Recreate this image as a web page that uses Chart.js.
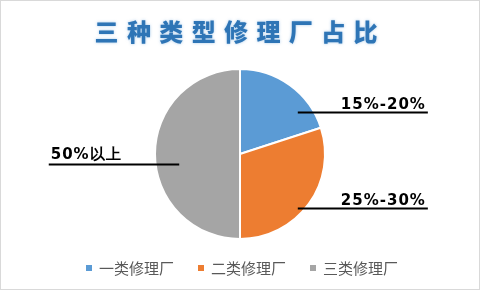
<!DOCTYPE html>
<html><head><meta charset="utf-8">
<script src="https://cdn.jsdelivr.net/npm/chart.js@4/dist/chart.umd.min.js"></script>
<style>html,body{margin:0;padding:0;background:#fff;}#wrap{width:480px;height:290px;position:relative;}</style>
</head><body><div id="wrap"><canvas id="c" width="480" height="290"></canvas></div>
<script>
const title = "三种类型修理厂占比";
const categories = ["一类修理厂", "二类修理厂", "三类修理厂"];
const values = [20, 30, 50];
const labelTexts = ["15%-20%", "25%-30%", "50%以上"];
const colors = ["#5B9BD5", "#ED7D31", "#A5A5A5"];

const decor = {
  id: 'decor',
  beforeDraw(chart) {
    const ctx = chart.ctx;
    ctx.save();
    ctx.fillStyle = '#fff';
    ctx.fillRect(0, 0, chart.width, chart.height);
    ctx.strokeStyle = '#d9d9d9';
    ctx.lineWidth = 1;
    ctx.strokeRect(0.5, 0.5, chart.width - 1, chart.height - 1);
    ctx.restore();
  },
  afterDraw(chart) {
    const ctx = chart.ctx;
    ctx.save();
    // title
    ctx.font = '900 24px "Noto Sans CJK SC"';
    ctx.fillStyle = '#2E75B6';
    ctx.textBaseline = 'middle';
    const chars = [...title];
    const ws = chars.map(c => ctx.measureText(c).width);
    const sumW = ws.reduce((a, b) => a + b, 0);
    const span = 283;
    const gap = (span - sumW) / (chars.length - 1);
    let x = 236 - span / 2;
    ctx.shadowColor = 'rgba(91,155,213,0.55)';
    ctx.shadowBlur = 3;
    chars.forEach((c, i) => { ctx.fillText(c, x, 32); x += ws[i] + gap; });
    ctx.shadowColor = 'transparent';
    ctx.shadowBlur = 0;

    // data labels with leader lines
    const meta = chart.getDatasetMeta(0);
    const arc = meta.data[0];
    const cx = arc.x, cy = arc.y, r = arc.outerRadius;
    const spec = [
      { y: -0.49, x0: 0.68, x1: 2.21, side: 'r' },
      { y: 0.64, x0: 0.68, x1: 2.21, side: 'r' },
      { y: 0.115, x0: -0.715, x1: -2.25, side: 'l' }
    ];
    ctx.font = 'bold 15px "DejaVu Sans"';
    ctx.letterSpacing = '1px';
    ctx.fillStyle = '#000';
    ctx.strokeStyle = '#000';
    ctx.lineWidth = 2;
    ctx.textBaseline = 'alphabetic';
    labelTexts.forEach((t, i) => {
      const s = spec[i];
      const ly = Math.round(cy + s.y * r) + 0.5;
      ctx.beginPath();
      ctx.moveTo(cx + s.x0 * r, ly);
      ctx.lineTo(cx + s.x1 * r, ly);
      ctx.stroke();
      ctx.textAlign = s.side === 'r' ? 'right' : 'left';
      const tx = s.side === 'r' ? cx + s.x1 * r - 2 : cx + s.x1 * r + 2;
      ctx.fillText(t, tx, ly - (i === 2 ? 5.5 : 3.5));
    });
    ctx.letterSpacing = '0px';

    // legend
    ctx.font = '15px "Noto Sans CJK SC"';
    ctx.textAlign = 'left';
    ctx.textBaseline = 'middle';
    const tw = categories.map(c => ctx.measureText(c).width);
    const itemW = tw.map(w => 6 + 7 + w);
    const spacing = 24;
    const total = itemW.reduce((a, b) => a + b, 0) + spacing * (categories.length - 1);
    let lx = 242 - total / 2;
    const ly = 268;
    categories.forEach((c, i) => {
      ctx.fillStyle = colors[i];
      ctx.fillRect(lx, ly - 3, 6, 6);
      ctx.fillStyle = '#595959';
      ctx.fillText(c, lx + 13, ly);
      lx += itemW[i] + spacing;
    });
    ctx.restore();
  }
};

new Chart(document.getElementById('c'), {
  type: 'pie',
  data: {
    labels: categories,
    datasets: [{ data: values, backgroundColor: colors, borderColor: '#fff', borderWidth: 2 }]
  },
  options: {
    responsive: false,
    animation: false,
    layout: { padding: { top: 68, bottom: 50, left: 0, right: 0 } },
    plugins: { legend: { display: false }, tooltip: { enabled: false }, title: { display: false } }
  },
  plugins: [decor]
});
</script></body></html>
